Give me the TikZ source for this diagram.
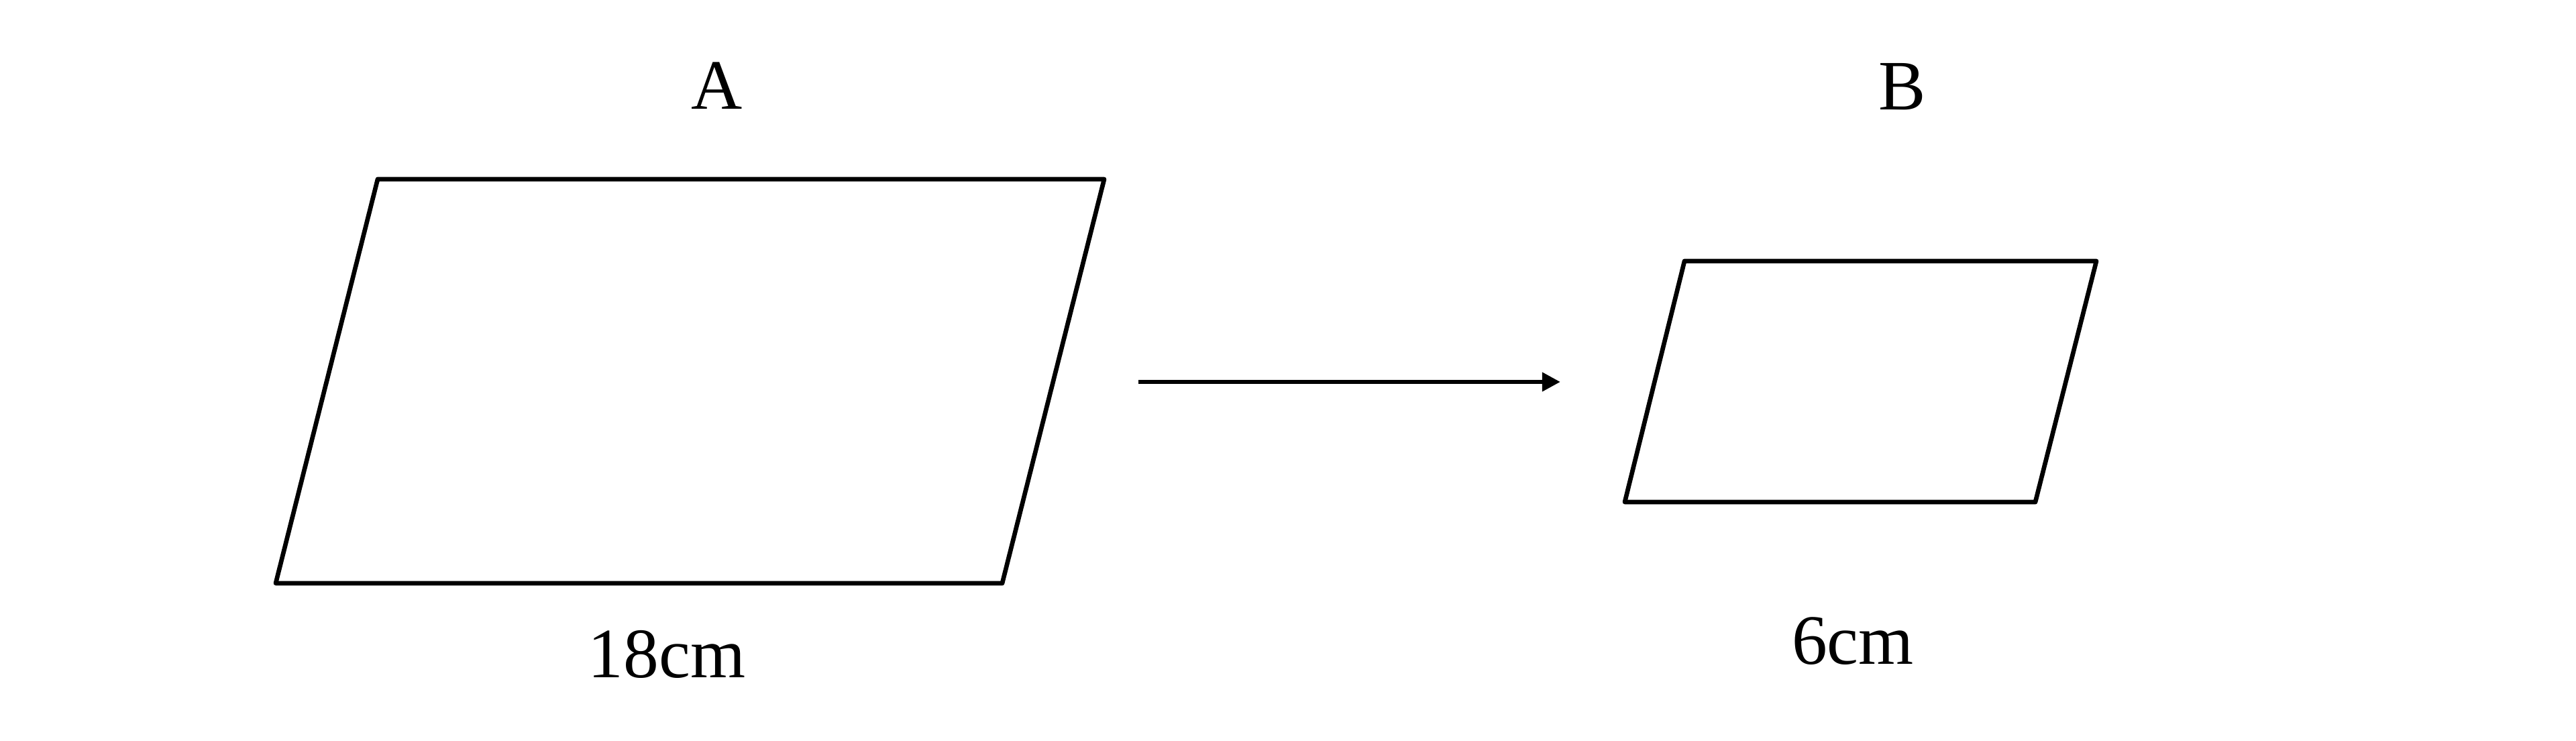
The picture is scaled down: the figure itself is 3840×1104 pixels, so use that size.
\documentclass[tikz,border=0pt]{standalone}
\usepackage{fontspec}
\setmainfont{Liberation Serif}
\usetikzlibrary{arrows.meta}
\begin{document}
\begin{tikzpicture}[x=0.01cm,y=-0.01cm,
  shapeline/.style={line width=1.9pt,line join=round,line cap=round},
  lbl/.style={anchor=base,inner sep=0pt,font=\fontsize{30}{36}\selectfont},
  arr/.style={line width=1.9pt,-{Triangle[length=7.7pt,width=7.7pt]}}]
\useasboundingbox (0,0) rectangle (3840,1104);
% parallelogram A
\coordinate (a1) at (563,267);
\coordinate (a2) at (1646,267);
\coordinate (a3) at (1494,869);
\coordinate (a4) at (411,869);
\draw[shapeline] (a1) -- (a2) -- (a3) -- (a4) -- cycle;
% parallelogram B
\coordinate (b1) at (2511,389);
\coordinate (b2) at (3125,389);
\coordinate (b3) at (3034,748);
\coordinate (b4) at (2422,748);
\draw[shapeline] (b1) -- (b2) -- (b3) -- (b4) -- cycle;
% labels
\node[lbl] (labA) at (1069,163) {A};
\node[lbl] (labB) at (2836,164) {B};
\node[lbl] (lenA) at (994,1009) {18cm};
\node[lbl] (lenB) at (2762,989) {6cm};
% arrow
\coordinate (s) at (1697,569);
\coordinate (e) at (2326,569);
\draw[arr] (s) -- (e);
\end{tikzpicture}
\end{document}
